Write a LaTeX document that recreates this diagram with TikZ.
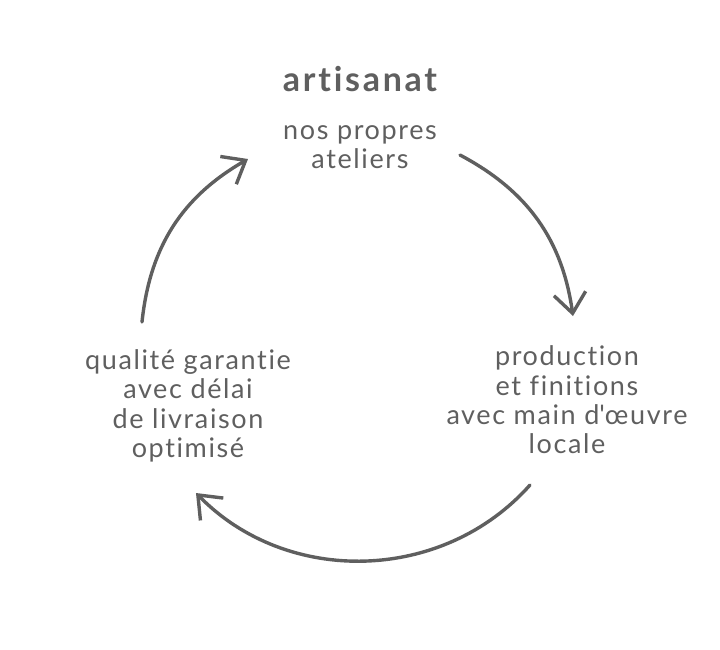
\documentclass[tikz,border=0pt]{standalone}
\usepackage{fontspec}
\setmainfont{Lato}[Ligatures=NoCommon, LetterSpace=6]
\usetikzlibrary{arrows.meta}
\definecolor{pencil}{HTML}{5F5F5F}

\begin{document}
\begin{tikzpicture}[x=0.5pt,y=-0.5pt,
    label text/.style={text=pencil, align=center, font=\fontsize{13.5}{14.7}\selectfont},
    cycle arrow/.style={draw=pencil, line width=1.7pt, line cap=round,
      -{Straight Barb[length=10pt,width=16pt,line width=1.7pt]}}]
  \useasboundingbox (0,0) rectangle (720,650);

  % labels
  \node[label text, font=\bfseries\fontsize{17}{18}\selectfont\addfontfeature{LetterSpace=8}] (artisanat) at (360,79) {artisanat};
  \node[label text] (ateliers) at (360,147) {nos propres\\ateliers};
  \node[label text] (production) at (567,400) {production\\et finitions\\avec main d\textquotesingle œuvre\\locale};
  \node[label text] (qualite) at (188,406) {qualité garantie\\avec délai\\de livraison\\optimisé};

  % arrow ends
  \coordinate (top out) at (460,155);
  \coordinate (right in) at (573,316);
  \coordinate (right out) at (530,485);
  \coordinate (left in) at (196,493);
  \coordinate (left out) at (142,322);
  \coordinate (top in) at (248,159);

  % arrows
  \draw[cycle arrow] (top out) to[bend left=27] (right in);
  \draw[cycle arrow] (right out) to[bend left=47] (left in);
  \draw[cycle arrow] (left out) to[bend left=27] (top in);
\end{tikzpicture}
\end{document}
